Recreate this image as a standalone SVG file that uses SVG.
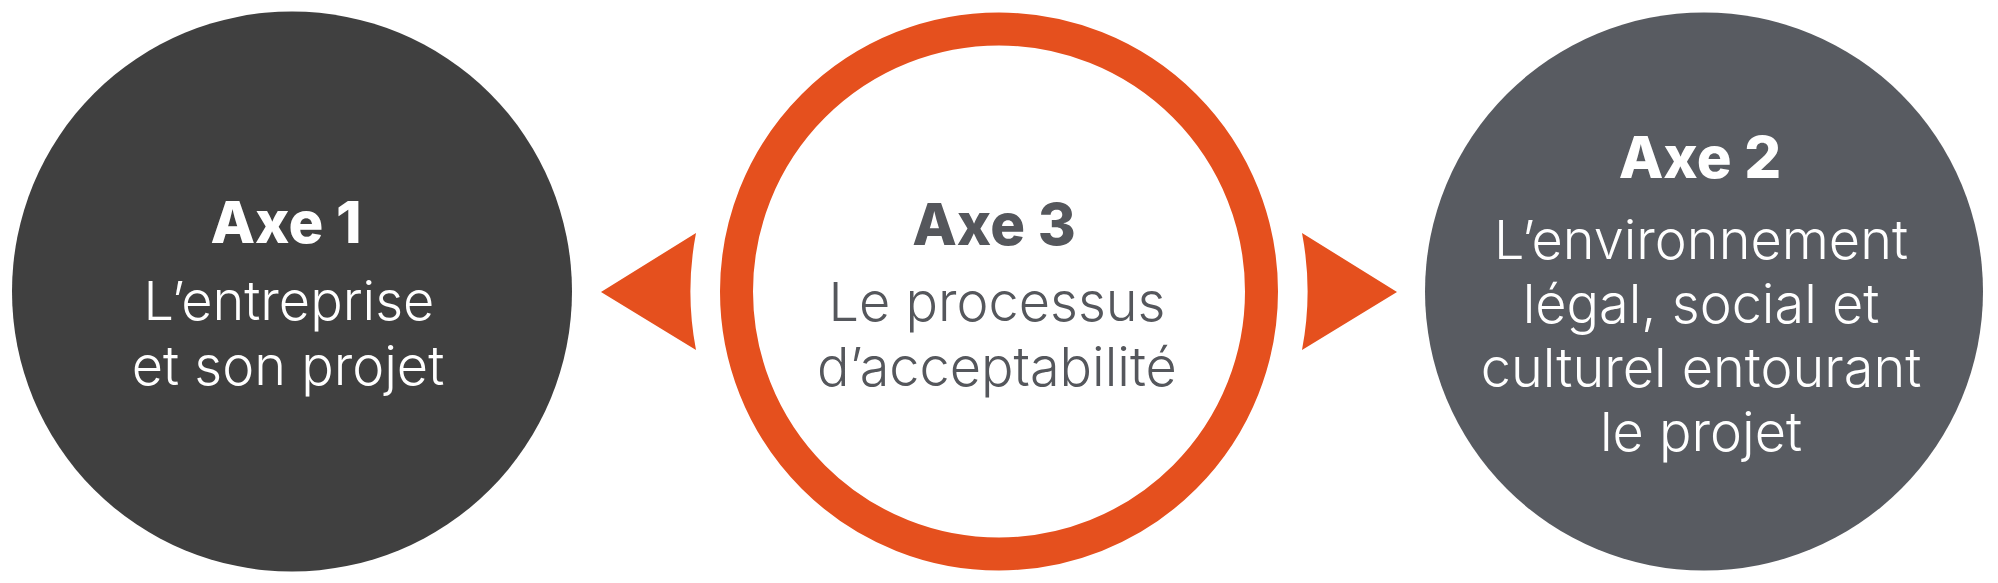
<svg xmlns="http://www.w3.org/2000/svg" width="1998" height="583" viewBox="0 0 1998 583">
  <style>
    .title { font-family: Inter, "Liberation Sans", sans-serif; font-weight: 800; font-size: 58px; text-anchor: middle; }
    .body { font-family: Inter, "Liberation Sans", sans-serif; font-weight: 300; font-size: 54px; text-anchor: middle; }
    .light { fill: #ffffff; }
    .grey { fill: #55575c; }
    .arrow { fill: #e5501e; }
  </style>
  <rect width="1998" height="583" fill="#ffffff"/>
  <g id="axe1">
    <circle cx="292" cy="291.5" r="280" fill="#404040"/>
    <text class="title light" x="286" y="243">Axe 1</text>
    <text class="body light" x="289" y="320">L’entreprise</text>
    <text class="body light" x="288" y="385">et son projet</text>
  </g>
  <g id="axe3">
    <circle cx="999" cy="291.5" r="262.5" fill="#ffffff" stroke="#e5501e" stroke-width="33"/>
    <text class="title grey" x="994" y="245">Axe 3</text>
    <text class="body grey" x="997" y="321">Le processus</text>
    <text class="body grey" x="997" y="386">d’acceptabilité</text>
  </g>
  <g id="axe2">
    <circle cx="1704" cy="291.5" r="279" fill="#585b61"/>
    <text class="title light" x="1700" y="178">Axe 2</text>
    <text class="body light" x="1701" y="259">L’environnement</text>
    <text class="body light" x="1701" y="323">légal, social et</text>
    <text class="body light" x="1701" y="387">culturel entourant</text>
    <text class="body light" x="1701" y="451">le projet</text>
  </g>
  <g id="connectors">
    <path class="arrow" d="M601,292 L696,233 A310,310 0 0 0 696,350 Z"/>
    <path class="arrow" d="M1397,292 L1302,233 A310,310 0 0 1 1302,350 Z"/>
  </g>
</svg>
